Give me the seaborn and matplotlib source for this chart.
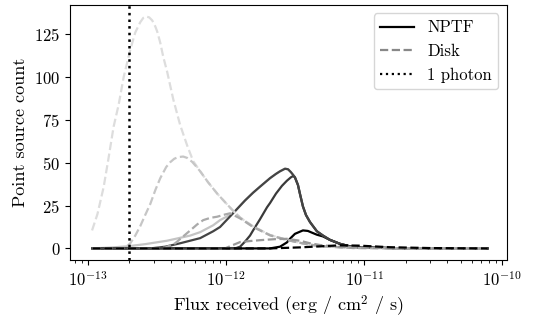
import numpy as np
import matplotlib
matplotlib.use("Agg")
import matplotlib.pyplot as plt
from matplotlib.lines import Line2D
import seaborn as sns

# log10 of flux (erg / cm^2 / s) and point source counts
one_photon_flux = 2e-13

disk_tail_logf = [-12.129, -12.064, -12.007, -11.949, -11.898, -11.804, -11.681, -11.559,
                  -11.443, -11.320, -11.082, -10.742, -10.106]
disk_tail_count = [38.5, 32, 27, 22, 18, 12.8, 7.8, 5, 2.9, 1.3, 0.25, 0.05, 0]

disk1_logf = [-12.970, -12.931, -12.886, -12.852, -12.814, -12.777, -12.741, -12.693, -12.657,
              -12.621, -12.599, -12.577, -12.556, -12.534, -12.512, -12.498, -12.476, -12.455,
              -12.426, -12.382, -12.332, -12.281, -12.238, -12.187] + disk_tail_logf
disk1_count = [10.5, 20, 35.8, 52, 71, 84, 100, 116, 126, 132, 134.5, 135.3, 134.8, 133, 129.5,
               126.5, 120, 112, 103, 87, 72, 60, 51, 45] + disk_tail_count

disk2_logf = [-12.967, -12.765, -12.722, -12.693, -12.657, -12.621, -12.585, -12.548, -12.512,
              -12.476, -12.433, -12.404, -12.375, -12.346, -12.310, -12.281, -12.245, -12.216,
              -12.187] + disk_tail_logf
disk2_count = [0, 0, 1, 3, 7.5, 13, 19.5, 26, 34, 41, 47.5, 50.3, 52.3, 53.3, 53.6, 52.8, 50.5,
               47.8, 45] + disk_tail_count

disk3_logf = [-12.967, -12.548, -12.440, -12.368, -12.310, -12.259, -12.209, -12.165, -12.115,
              -12.064, -12.007, -11.970, -11.898, -11.804, -11.681, -11.559, -11.443, -11.320,
              -11.082, -10.742, -10.106]
disk3_count = [0, 0, 0.5, 3, 7, 10.5, 14, 16.5, 17.8, 18.5, 19.8, 20.5, 17.5, 12.5, 7.6, 4.9,
               2.9, 1.3, 0.25, 0.05, 0]

disk4_logf = [-12.967, -12.007, -11.978, -11.949, -11.898, -11.826, -11.754, -11.645, -11.559,
              -11.465, -11.392, -11.320, -11.176, -11.031, -10.742, -10.106]
disk4_count = [0, 0, 1, 2, 3.7, 4.3, 4.8, 5.4, 5.6, 4.5, 3, 2, 0.8, 0.4, 0.1, 0]

disk5_logf = [-12.967, -11.681, -11.465, -11.320, -11.176, -11.031, -10.814, -10.525, -10.106]
disk5_count = [0, 0, 0.6, 1.2, 1.8, 1.6, 0.7, 0.2, 0]

nptf_tail_logf = [-11.501, -11.479, -11.465, -11.443, -11.421, -11.392, -11.342, -11.298,
                  -11.248, -11.176, -11.103, -11.031, -10.742, -10.106]
nptf_tail_count = [41.5, 37, 32, 24.5, 19.5, 15.4, 10, 7.5, 5, 2.7, 1.2, 0.6, 0.1, 0]

nptf_peak_logf = [-11.949, -11.862, -11.804, -11.754, -11.681, -11.638, -11.609, -11.573,
                  -11.551, -11.530, -11.515]
nptf_peak_count = [20.5, 28, 32.5, 36, 41, 43.5, 45, 46.5, 46.2, 44.5, 43]

nptf1_logf = [-12.967, -12.837, -12.715, -12.585, -12.426, -12.259, -12.187, -12.093,
              -12.043] + nptf_peak_logf + nptf_tail_logf
nptf1_count = [0, 0.5, 1.2, 2.5, 4.5, 7.5, 9.5, 13.5, 16.5] + nptf_peak_count + nptf_tail_count

nptf2_logf = [-12.967, -12.548, -12.440, -12.332, -12.187, -12.093,
              -12.043] + nptf_peak_logf + nptf_tail_logf
nptf2_count = [0, 0, 1, 3, 6, 10, 12.5] + nptf_peak_count + nptf_tail_count

nptf3_logf = [-12.967, -11.927, -11.898, -11.862, -11.826, -11.804, -11.754, -11.703, -11.681,
              -11.638, -11.595, -11.559, -11.530, -11.515] + nptf_tail_logf
nptf3_count = [0, 0.2, 1, 4, 7.5, 10.5, 17, 24, 26.5, 32, 36.5, 39.5, 41.5,
               42.2] + nptf_tail_count

nptf4_logf = [-12.967, -11.681, -11.609, -11.559, -11.536, -11.501, -11.443, -11.407, -11.378,
              -11.342, -11.298, -11.248, -11.176, -11.103, -11.031, -10.742, -10.106]
nptf4_count = [0, 0, 1, 3.5, 5.7, 8.5, 10.5, 10.2, 9.2, 8, 7, 5, 2.7, 1.2, 0.6, 0.1, 0]

plt.rcParams.update({
    "font.family": "serif",
    "font.serif": ["cmr10"],
    "mathtext.fontset": "cm",
    "axes.formatter.use_mathtext": True,
    "font.size": 12,
    "axes.unicode_minus": False,
})

fig, ax = plt.subplots(figsize=(5.34, 3.16), dpi=100)
fig.subplots_adjust(left=0.131, right=0.949, top=0.984, bottom=0.177)

lw = 1.6
# solid NPTF curves first, dashed disk curves on top
solid = [(nptf1_logf, nptf1_count, "#c4c4c4"),
         (nptf4_logf, nptf4_count, "#000000"),
         (nptf3_logf, nptf3_count, "#3a3a3a"),
         (nptf2_logf, nptf2_count, "#444444")]
for lf, c, col in solid:
    sns.lineplot(x=10 ** np.array(lf), y=c, color=col, lw=lw, ax=ax, sort=False)

dashed = [(disk1_logf, disk1_count, "#dddddd"),
          (disk2_logf, disk2_count, "#c6c6c6"),
          (disk3_logf, disk3_count, "#aaaaaa"),
          (disk4_logf, disk4_count, "#999999"),
          (disk5_logf, disk5_count, "#000000")]
for lf, c, col in dashed:
    sns.lineplot(x=10 ** np.array(lf), y=c, color=col, lw=lw, ls="--", ax=ax, sort=False)

ax.axvline(one_photon_flux, color="k", ls=":", lw=1.8)

ax.set_xscale("log")
ax.set_xlim(10 ** -13.13, 10 ** -9.967)
ax.set_ylim(-6.8, 142)
ax.set_yticks([0, 25, 50, 75, 100, 125])
ax.set_xlabel(r"Flux received (erg / cm$^2$ / s)", fontsize=13)
ax.set_ylabel("Point source count", fontsize=13)

handles = [Line2D([], [], color="k", lw=lw),
           Line2D([], [], color="#888888", lw=lw, ls="--"),
           Line2D([], [], color="k", lw=lw, ls=":")]
ax.legend(handles, ["NPTF", "Disk", "1 photon"], loc="upper right")

fig.savefig("out.png", dpi=100)
